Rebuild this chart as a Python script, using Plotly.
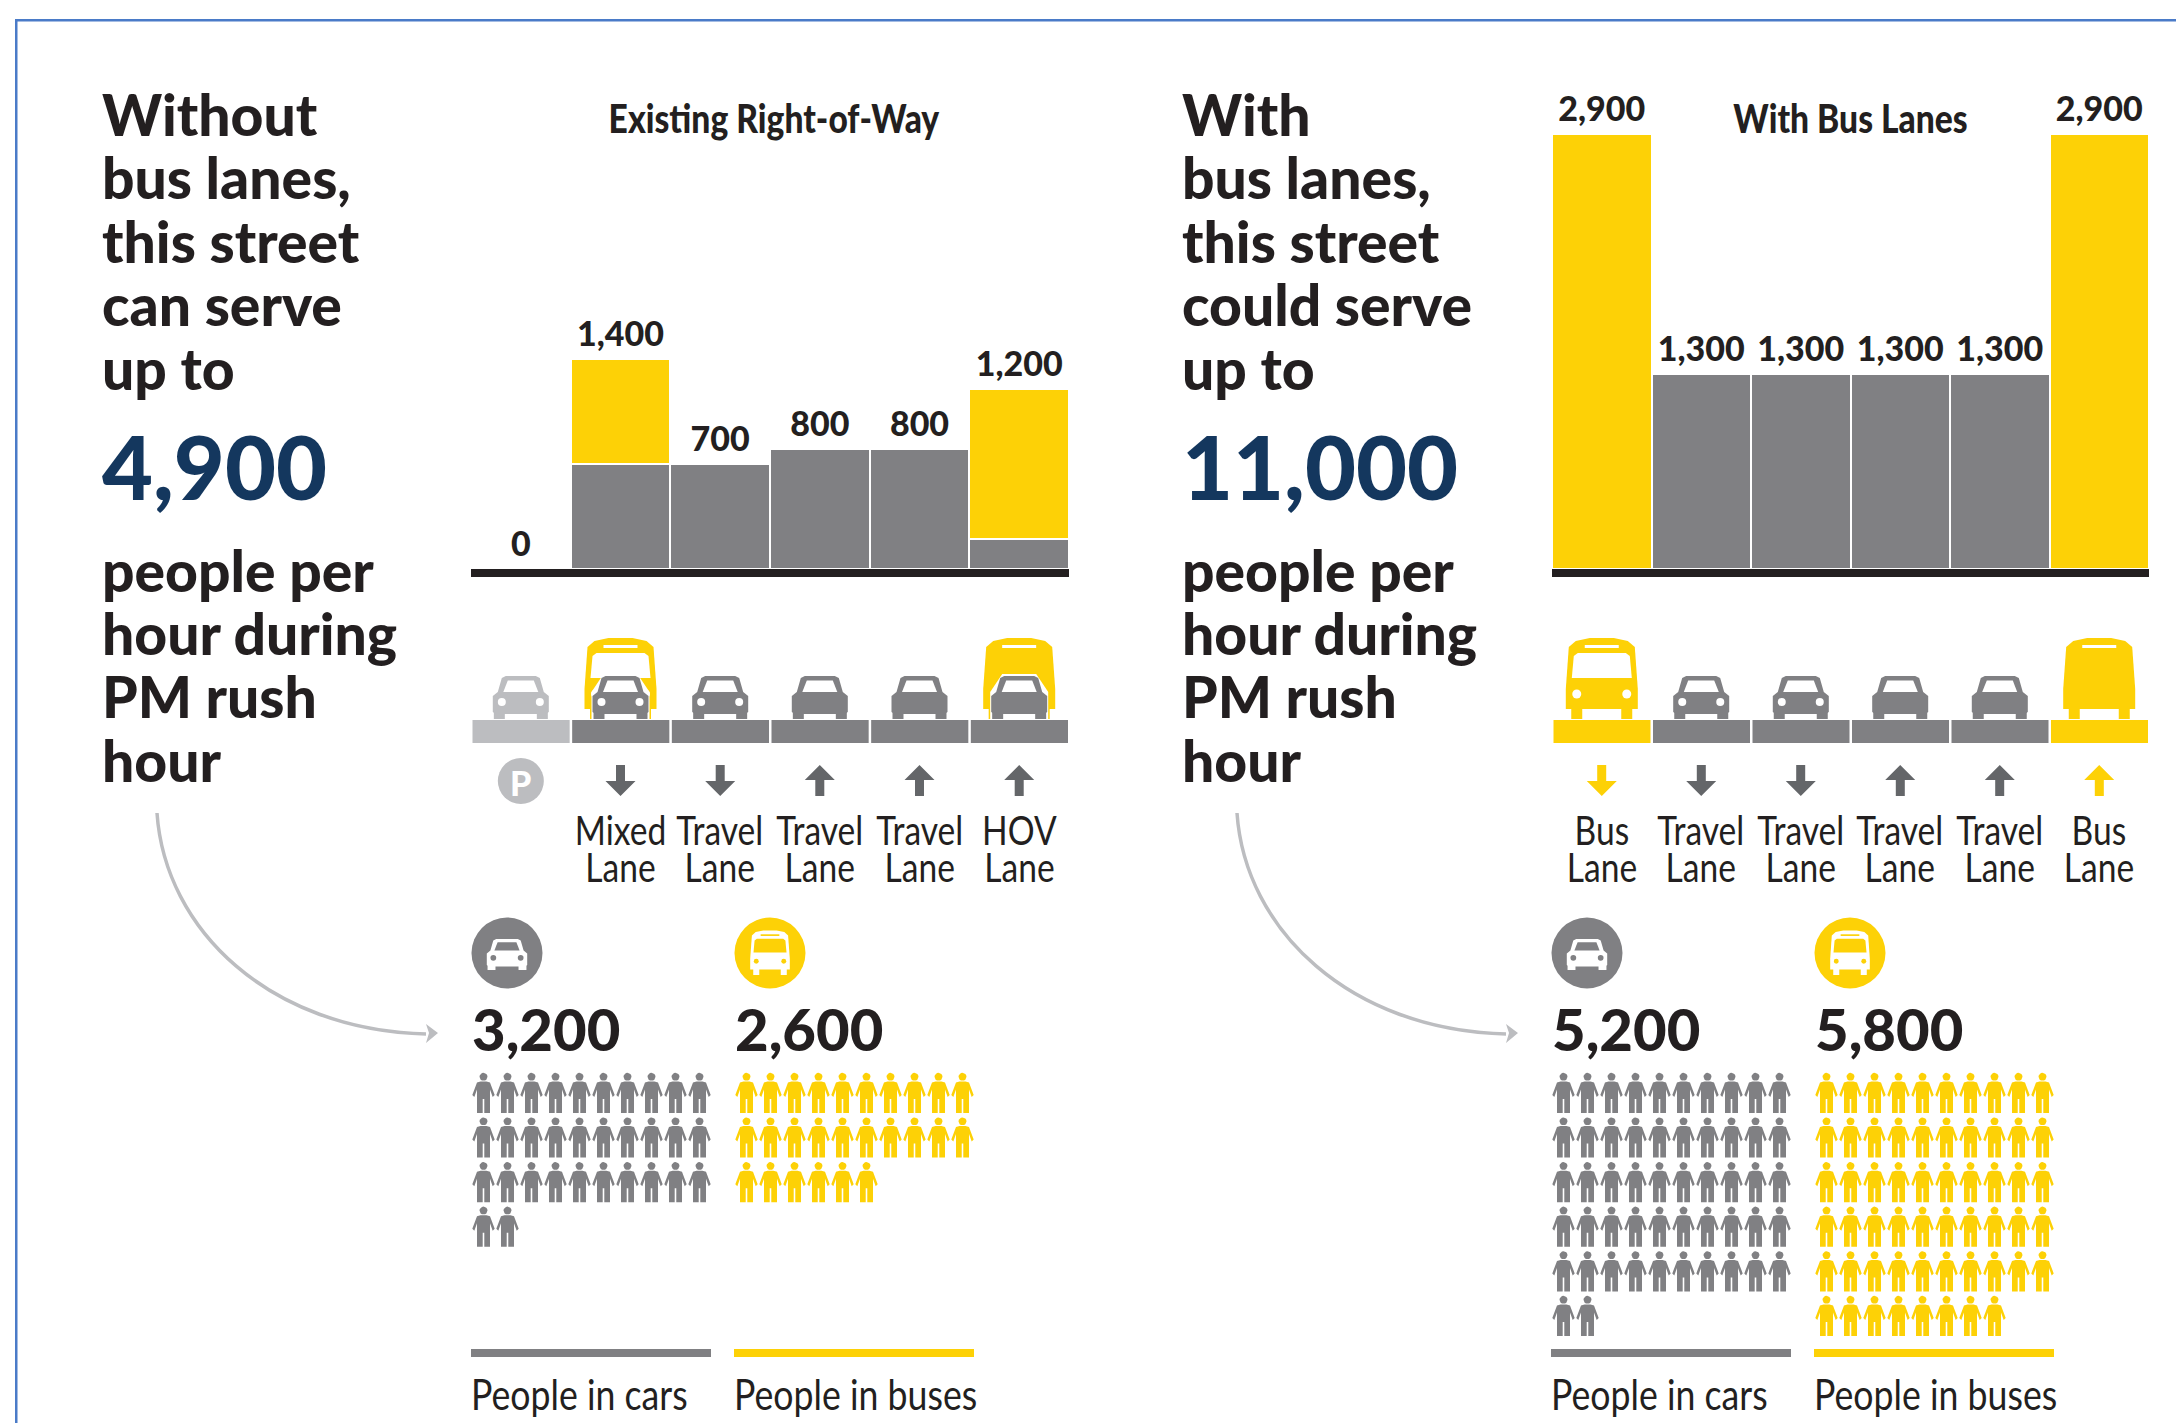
import math
import plotly.graph_objects as go

# ---------- data ----------
lanes_before = ["", "Mixed<br>Lane", "Travel<br>Lane", "Travel<br>Lane", "Travel<br>Lane", "HOV<br>Lane"]
cars_before = [0, 700, 700, 800, 800, 200]
buses_before = [0, 700, 0, 0, 0, 1000]
lanes_after = ["Bus<br>Lane", "Travel<br>Lane", "Travel<br>Lane", "Travel<br>Lane", "Travel<br>Lane", "Bus<br>Lane"]
cars_after = [0, 1300, 1300, 1300, 1300, 0]
buses_after = [2900, 0, 0, 0, 0, 2900]
dir_before = ["p", "down", "down", "up", "up", "up"]
dir_after = ["down", "down", "down", "up", "up", "up"]
heading_before_top = ["Without", "bus lanes,", "this street", "can serve", "up to"]
heading_after_top = ["With", "bus lanes,", "this street", "could serve", "up to"]
heading_bottom = ["people per", "hour during", "PM rush", "hour"]
total_before = "4,900"
total_after = "11,000"
people_before = [3200, 2600]
people_after = [5200, 5800]
people_per_icon = 100

# ---------- style ----------
W, H = 2176, 1423
GRAY, YEL, INK, NAVY = "#808083", "#fdd106", "#231f20", "#14375e"
LIGHT, ARROW, BLUE = "#bcbdc0", "#646669", "#4a7bc8"
HEAD = "Lato"
NARROW = "Lato, Noto Sans"   # condensed horizontally by the page script below
BASE = 569
PX_PER_UNIT = 0.15
TOP = 40
LABEL_PAD = 28
PANELS = [(471, 1069), (1552, 2149)]
OFFSET = 1080

fig = go.Figure()
shapes, notes = [], []


def dom_x(a, b):
    return [a / W, b / W]


def txt(x, y, s, size, family=HEAD, color=INK, weight=400, anchor="left"):
    notes.append(dict(x=x, y=y, xref="x3", yref="y3", text=s, showarrow=False,
                      xanchor=anchor, yanchor="middle", align=anchor,
                      font=dict(family=family, size=size, color=color, weight=weight)))


def fill(path, color):
    shapes.append(dict(type="path", path=path, xref="x3", yref="y3",
                       fillcolor=color, line=dict(width=0), layer="above"))


def rect(x0, y0, x1, y1, color):
    shapes.append(dict(type="rect", x0=x0, y0=y0, x1=x1, y1=y1, xref="x3", yref="y3",
                       fillcolor=color, line=dict(width=0), layer="above"))


def circle(cx, cy, r, color):
    shapes.append(dict(type="circle", x0=cx - r, y0=cy - r, x1=cx + r, y1=cy + r,
                       xref="x3", yref="y3", fillcolor=color, line=dict(width=0), layer="above"))


def poly(pts):
    return "M" + " L".join(f"{x:.1f},{y:.1f}" for x, y in pts) + " Z"


def car(cx, by, body, glass, lights=True, s=1.0, halo=False):
    P = lambda x, y: (cx + x * s, by - y * s)
    if halo:
        fill(poly([P(*p) for p in [(-29, 0), (-29, 27), (-17, 45), (17, 45), (29, 27), (29, 0)]]), "#ffffff")
    for sx in (-1, 1):
        rect(cx + sx * 21.5 * s - 5.5 * s, by - 10 * s, cx + sx * 21.5 * s + 5.5 * s, by, body)
    fill(poly([P(*p) for p in [(-28, 7), (-28, 23), (-23, 27), (-19, 41), (-15, 43), (15, 43),
                               (19, 41), (23, 27), (28, 23), (28, 7), (25, 5), (-25, 5)]]), body)
    fill(poly([P(*p) for p in [(-17.5, 27), (-13, 38.5), (13, 38.5), (17.5, 27)]]), glass)
    if lights:
        for sx in (-1, 1):
            circle(cx + sx * 19 * s, by - 17 * s, 4 * s, glass)


def bus(cx, by, body, glass, front=True, s=1.0):
    P = lambda x, y: (cx + x * s, by - y * s)
    for sx in (-1, 1):
        rect(cx + sx * 25 * s - 5.5 * s, by - 12 * s, cx + sx * 25 * s + 5.5 * s, by, body)
    fill(poly([P(*p) for p in [(-36, 10), (-36, 30), (-33, 72), (-26, 78), (-12, 81), (12, 81),
                               (26, 78), (33, 72), (36, 30), (36, 10)]]), body)
    rect(cx - 17 * s, by - 74 * s, cx + 17 * s, by - 71 * s, glass)
    if front:
        fill(poly([P(*p) for p in [(-30, 41), (30, 41), (28, 63), (24, 66), (-24, 66), (-28, 63)]]), glass)
        for sx in (-1, 1):
            circle(cx + sx * 25 * s, by - 25 * s, 4.5 * s, glass)


def arrow(cx, direction, color):
    t, b = 765, 796
    if direction == "down":
        pts = [(-4.5, t), (4.5, t), (4.5, b - 15), (15, b - 15), (0, b), (-15, b - 15), (-4.5, b - 15)]
    else:
        pts = [(-4.5, b), (4.5, b), (4.5, t + 15), (15, t + 15), (0, t), (-15, t + 15), (-4.5, t + 15)]
    fill(poly([(cx + x, y) for x, y in pts]), color)


def people_trace(x0, n, color):
    """One pictogram per people_per_icon people, ten to a row."""
    body = [(-3, 8.5), (3, 8.5), (6.5, 9.5), (11.2, 22), (9.2, 24), (6.5, 16.5), (6.5, 40), (0.8, 40), (0.8, 26),
            (-0.8, 26), (-0.8, 40), (-6.5, 40), (-6.5, 16.5), (-9.2, 24), (-11.2, 22), (-6.5, 9.5), (-3, 8.5)]
    xs, ys = [], []
    for i in range(n):
        cx = x0 + 11.5 + (i % 10) * 24
        ty = 1073 + (i // 10) * 44.6
        for x, y in body:
            xs.append(cx + x); ys.append(ty + y)
        xs.append(None); ys.append(None)
        for k in range(17):
            a = 2 * math.pi * k / 16
            xs.append(cx + 4 * math.cos(a)); ys.append(ty + 3.8 + 4 * math.sin(a))
        xs.append(None); ys.append(None)
    fig.add_trace(go.Scatter(x=xs, y=ys, xaxis="x3", yaxis="y3", mode="lines", fill="toself",
                             fillcolor=color, line=dict(width=0), hoverinfo="skip", showlegend=False))


def panel(idx, cars, buses, labels, dirs, title, head_top, total, people):
    dx = OFFSET * idx
    xa, ya = ("x", "y") if idx == 0 else ("x2", "y2")
    lanes = list(range(6))
    tot = [c + b for c, b in zip(cars, buses)]
    for vals, col in ((cars, GRAY), (buses, YEL)):
        fig.add_trace(go.Bar(x=lanes, y=vals, xaxis=xa, yaxis=ya, width=1.0, marker=dict(
            color=col, line=dict(color="#ffffff", width=2)), showlegend=False, hoverinfo="skip"))
    fig.add_trace(go.Scatter(x=lanes, y=[v + LABEL_PAD for v in tot], xaxis=xa, yaxis=ya, mode="text",
                             text=[f"{v:,}" for v in tot], textposition="top center",
                             textfont=dict(family=HEAD, size=34, color=INK, weight=900),
                             showlegend=False, hoverinfo="skip", cliponaxis=False))
    a, b = PANELS[idx]
    lw = (b - a) / 6
    for i in lanes:
        cx = a + lw * (i + 0.5)
        road = LIGHT if dirs[i] == "p" else (YEL if idx == 1 and i in (0, 5) else GRAY)
        rect(a + lw * i + 1.5, 720, a + lw * (i + 1) - 1, 743, road)
        front = dirs[i] != "up"
        if idx == 0:
            if buses[i]:
                bus(cx, 719, YEL, "#ffffff", front=front)
                car(cx, 719, GRAY, "#ffffff", lights=front, halo=True)
            else:
                car(cx, 719, LIGHT if dirs[i] == "p" else GRAY, "#ffffff", lights=front)
        else:
            if buses[i]:
                bus(cx, 719, YEL, "#ffffff", front=front)
            else:
                car(cx, 719, GRAY, "#ffffff", lights=front)
        if dirs[i] == "p":
            circle(cx, 781, 23, LIGHT)
            txt(cx, 782, "P", 34, HEAD, "#ffffff", 900, "center")
        else:
            arrow(cx, dirs[i], YEL if buses[i] and idx == 1 else ARROW)
        if labels[i]:
            txt(cx, 856, labels[i], 40, NARROW, INK, 400, "center")
    # headline text
    for k, s in enumerate(head_top):
        txt(100 + dx, 113.5 + k * 63.5, s, 57, HEAD, INK, 900)
    txt(100 + dx, 466, total, 88, HEAD, NAVY, 900)
    for k, s in enumerate(heading_bottom):
        txt(100 + dx, 570 + k * 63.2, s, 57, HEAD, INK, 900)
    txt(774 + (1850 - 774) * idx, 118, title, 40, NARROW, INK, 900, "center")
    # connecting curve
    shapes.append(dict(type="path", xref="x3", yref="y3", layer="above", line=dict(color=LIGHT, width=3.5),
                       path=f"M{157+dx},813 C{165+dx},930 {270+dx},1030 {426+dx},1034"))
    fill(poly([(426 + dx, 1024), (438 + dx, 1033), (426 + dx, 1043), (429 + dx, 1033)]), LIGHT)
    # people blocks
    for j, (x0, col, lab, ic) in enumerate([(472 + dx, GRAY, "People in cars", "car"),
                                            (735 + dx, YEL, "People in buses", "bus")]):
        c = x0 + 35
        circle(c, 953, 35.5, col)
        if ic == "car":
            car(c, 970, "#ffffff", col, s=0.72)
        else:
            bus(c, 975, "#ffffff", col, s=0.55)
        txt(x0 - 2, 1028.5, f"{people[j]:,}", 58, HEAD, INK, 900)
        people_trace(x0, people[j] // people_per_icon, col)
        rect(x0 - 1, 1349, x0 + 239, 1357, col)
        txt(x0 - 3, 1393, lab, 42.5, NARROW, INK, 400)


panel(0, cars_before, buses_before, lanes_before, dir_before,
      "Existing Right-of-Way", heading_before_top, total_before, people_before)
panel(1, cars_after, buses_after, lanes_after, dir_after,
      "With Bus Lanes", heading_after_top, total_after, people_after)

# frame
rect(15, 19, 17.5, H, BLUE)
rect(15, 19, W, 21.5, BLUE)

yr = [0, (BASE - TOP) / PX_PER_UNIT]
ydom = [1 - BASE / H, 1 - TOP / H]
axis_x = dict(range=[-0.5, 5.5], showline=True, linecolor=INK, linewidth=8, showgrid=False,
              zeroline=False, showticklabels=False, ticks="", fixedrange=True)
axis_y = dict(range=yr, domain=ydom, visible=False, fixedrange=True)
fig.update_layout(
    width=W, height=H, margin=dict(l=0, r=0, t=0, b=0, pad=0), barmode="stack", bargap=0,
    paper_bgcolor="#ffffff", plot_bgcolor="rgba(0,0,0,0)", showlegend=False,
    xaxis=dict(axis_x, domain=dom_x(*PANELS[0]), anchor="y"),
    yaxis=dict(axis_y, anchor="x"),
    xaxis2=dict(axis_x, domain=dom_x(*PANELS[1]), anchor="y2"),
    yaxis2=dict(axis_y, anchor="x2"),
    xaxis3=dict(domain=[0, 1], range=[0, W], visible=False, anchor="y3", fixedrange=True),
    yaxis3=dict(domain=[0, 1], range=[H, 0], visible=False, anchor="x3", fixedrange=True),
    shapes=shapes, annotations=notes,
)
POST = """
document.body.style.margin = '0';
document.querySelectorAll('.annotation-text').forEach(function (t) {
  if ((t.style.fontFamily || '').indexOf('Noto') < 0) return;
  t.querySelectorAll('tspan.line').forEach(function (s) {
    if (s.getAttribute('dy') && parseFloat(s.getAttribute('dy')) > 0) s.setAttribute('dy', '37px');
  });
  var k = 0.84;
  var bb = t.getBBox();
  var anc = t.getAttribute('text-anchor') || t.style.textAnchor;
  var ax = anc === 'start' ? bb.x : bb.x + bb.width / 2;
  t.setAttribute('transform', 'translate(' + ax + ',0) scale(' + k + ',1) translate(' + (-ax) + ',0)');
});
"""
fig.write_html("out.html", config=dict(displayModeBar=False), post_script=POST)
